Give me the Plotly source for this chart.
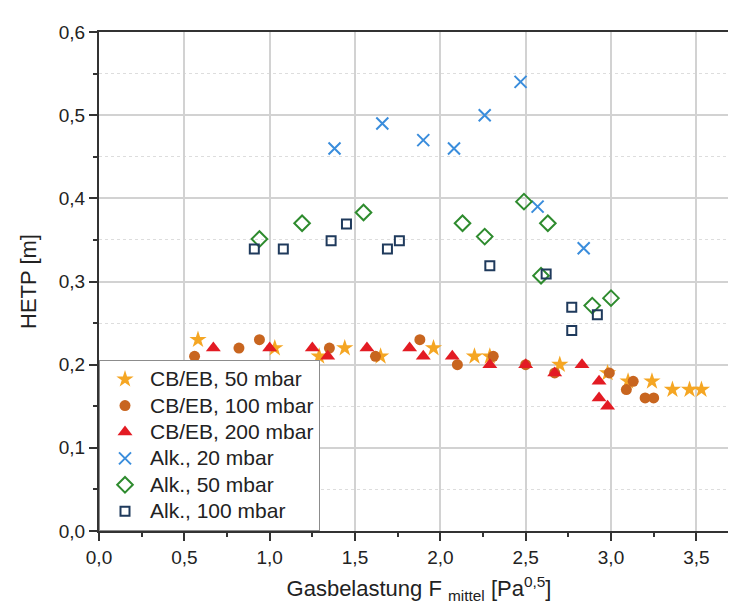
import plotly.graph_objects as go

# ---- data ----
cb50_x = [0.58, 1.03, 1.29, 1.44, 1.65, 1.96, 2.20, 2.29, 2.70, 2.98, 3.10, 3.24, 3.36, 3.46, 3.53]
cb50_y = [0.23, 0.22, 0.21, 0.22, 0.21, 0.22, 0.21, 0.21, 0.20, 0.19, 0.18, 0.18, 0.17, 0.17, 0.17]

cb100_x = [0.56, 0.82, 0.94, 1.35, 1.62, 1.88, 2.10, 2.31, 2.50, 2.67, 2.99, 3.09, 3.13, 3.20, 3.25]
cb100_y = [0.21, 0.22, 0.23, 0.22, 0.21, 0.23, 0.20, 0.21, 0.20, 0.19, 0.19, 0.17, 0.18, 0.16, 0.16]

cb200_x = [0.67, 1.00, 1.25, 1.34, 1.57, 1.82, 1.90, 2.07, 2.29, 2.50, 2.67, 2.83, 2.93, 2.93, 2.98]
cb200_y = [0.22, 0.22, 0.22, 0.21, 0.22, 0.22, 0.21, 0.21, 0.20, 0.20, 0.19, 0.20, 0.18, 0.16, 0.15]

alk20_x = [1.38, 1.66, 1.90, 2.08, 2.26, 2.47, 2.57, 2.84]
alk20_y = [0.46, 0.49, 0.47, 0.46, 0.50, 0.54, 0.39, 0.34]

alk50_x = [0.94, 1.19, 1.55, 2.13, 2.26, 2.49, 2.59, 2.63, 2.89, 3.00]
alk50_y = [0.351, 0.370, 0.383, 0.370, 0.354, 0.396, 0.307, 0.370, 0.271, 0.280]

alk100_x = [0.91, 1.08, 1.36, 1.45, 1.69, 1.76, 2.29, 2.62, 2.77, 2.77, 2.92]
alk100_y = [0.339, 0.339, 0.349, 0.369, 0.339, 0.349, 0.319, 0.309, 0.269, 0.241, 0.260]

series_names = ["CB/EB, 50 mbar", "CB/EB, 100 mbar", "CB/EB, 200 mbar",
                "Alk., 20 mbar", "Alk., 50 mbar", "Alk., 100 mbar"]

x_ticks = [0.0, 0.5, 1.0, 1.5, 2.0, 2.5, 3.0, 3.5]
y_ticks = [0.0, 0.1, 0.2, 0.3, 0.4, 0.5, 0.6]

FONT = "Liberation Sans, Arial, sans-serif"


def legend_label(s):
    # larger displayed text, compact legend rows
    return '<span style="font-size:21px">' + s + '</span>'


fig = go.Figure()

fig.add_trace(go.Scatter(x=cb50_x, y=cb50_y, mode="markers", name=legend_label(series_names[0]),
                         marker=dict(symbol="star", size=13, color="#F5A623",
                                     line=dict(width=0))))
fig.add_trace(go.Scatter(x=cb100_x, y=cb100_y, mode="markers", name=legend_label(series_names[1]),
                         marker=dict(symbol="circle", size=11, color="#C8651F",
                                     line=dict(width=0))))
fig.add_trace(go.Scatter(x=cb200_x, y=cb200_y, mode="markers", name=legend_label(series_names[2]),
                         marker=dict(symbol="triangle-up", size=13, color="#E31B23",
                                     line=dict(width=0))))
fig.add_trace(go.Scatter(x=alk20_x, y=alk20_y, mode="markers", name=legend_label(series_names[3]),
                         marker=dict(symbol="x-thin-open", size=12, color="#3A8DDC",
                                     line=dict(width=2, color="#3A8DDC"))))
fig.add_trace(go.Scatter(x=alk50_x, y=alk50_y, mode="markers", name=legend_label(series_names[4]),
                         marker=dict(symbol="diamond-open", size=12, color="#2E8B2E",
                                     line=dict(width=2, color="#2E8B2E"))))
fig.add_trace(go.Scatter(x=alk100_x, y=alk100_y, mode="markers", name=legend_label(series_names[5]),
                         marker=dict(symbol="square-open", size=9, color="#1F3A5C",
                                     line=dict(width=2, color="#1F3A5C"))))

fig.update_layout(
    width=736, height=610,
    margin=dict(l=91, r=3, t=24, b=87),
    paper_bgcolor="white", plot_bgcolor="white",
    separators=",.",
    font=dict(family=FONT, size=19, color="#222222"),
    showlegend=True,
    legend=dict(x=0, y=0, xanchor="left", yanchor="bottom",
                bgcolor="white", bordercolor="#8c8c8c", borderwidth=1,
                font=dict(family=FONT, size=18, color="#222222"),
                tracegroupgap=0, itemwidth=40),
)

fig.update_xaxes(
    range=[0, 3.75], tickvals=x_ticks, tickformat=".1f",
    showline=True, linecolor="#333333", linewidth=2, mirror=True,
    ticks="outside", ticklen=8, tickwidth=1.5, tickcolor="#333333",
    showgrid=True, gridcolor="#d2d2d2", gridwidth=1.5,
    zeroline=False,
    minor=dict(dtick=0.25, ticks="outside", ticklen=4, tickcolor="#333333", showgrid=False),
    tickfont=dict(size=19),
    title=dict(text="Gasbelastung F <sub>mittel</sub> [Pa<sup>0,5</sup>]",
               font=dict(size=22), standoff=14),
)
fig.update_yaxes(
    range=[0, 0.6], tickvals=y_ticks, tickformat=".1f",
    showline=True, linecolor="#333333", linewidth=2, mirror=True,
    ticks="outside", ticklen=8, tickwidth=1.5, tickcolor="#333333",
    showgrid=True, gridcolor="#d2d2d2", gridwidth=1.5,
    zeroline=False,
    minor=dict(dtick=0.05, ticks="outside", ticklen=4, tickcolor="#333333",
               showgrid=True, gridcolor="#dddddd", griddash="dot", gridwidth=1),
    tickfont=dict(size=19),
    title=dict(text="HETP [m]", font=dict(size=22), standoff=16),
)

fig.write_html("out.html")
